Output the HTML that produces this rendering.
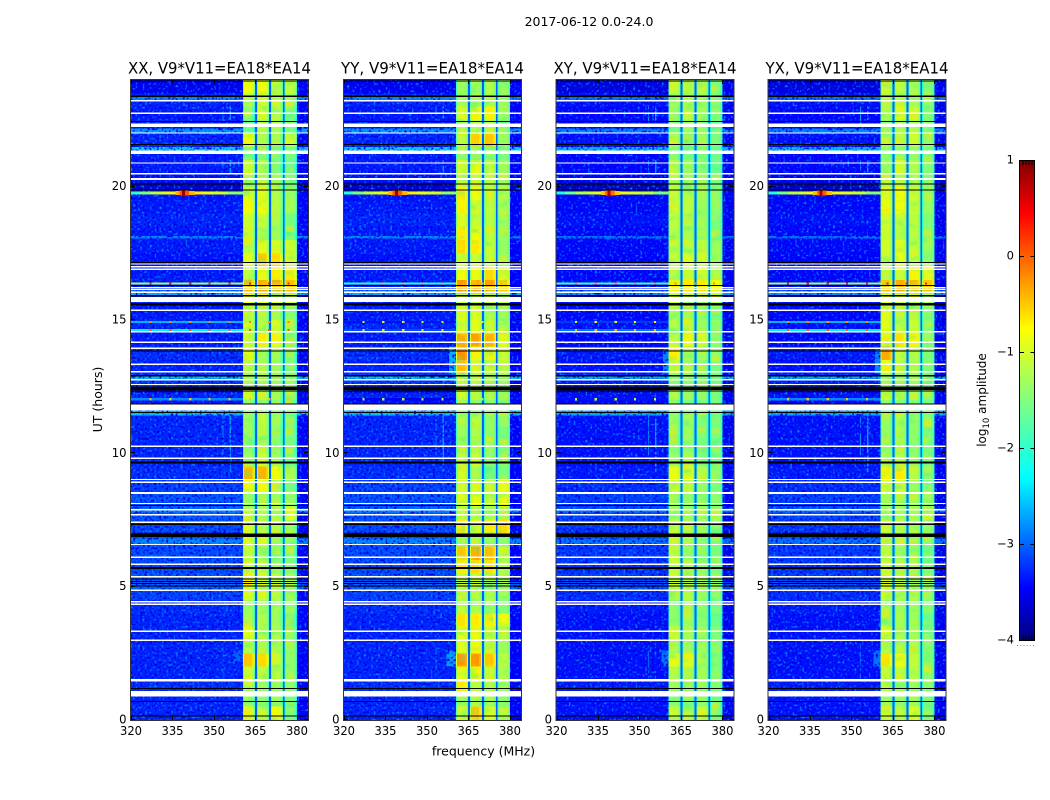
<!DOCTYPE html>
<html lang="en">
<head>
<meta charset="utf-8">
<title>2017-06-12 dynamic spectra</title>
<style>
html,body{margin:0;padding:0;background:#fff;width:1050px;height:800px;overflow:hidden}
svg{display:block}
text{font-family:"DejaVu Sans","Liberation Sans",sans-serif;fill:#000}
</style>
</head>
<body>
<svg id="fig" xmlns="http://www.w3.org/2000/svg" width="1050" height="800" viewBox="0 0 1050 800">
<defs>
<linearGradient id="jetGrad" x1="0" y1="1" x2="0" y2="0">
<stop offset="0" stop-color="#00007f"/><stop offset=".11" stop-color="#0000ff"/><stop offset=".34" stop-color="#00ffff"/><stop offset=".5" stop-color="#7fff7f"/><stop offset=".65" stop-color="#ffff00"/><stop offset=".89" stop-color="#ff0000"/><stop offset="1" stop-color="#7f0000"/>
</linearGradient>
<filter id="speckLight" x="0" y="0" width="100%" height="100%" color-interpolation-filters="sRGB">
<feTurbulence type="fractalNoise" baseFrequency="0.42" numOctaves="1" seed="4"/>
<feColorMatrix type="matrix" values="0 0 0 0 0  0 0 0 0 .5  0 0 0 0 1  5 0 0 0 -2.7"/>
</filter>
<filter id="speckDark" x="0" y="0" width="100%" height="100%" color-interpolation-filters="sRGB">
<feTurbulence type="fractalNoise" baseFrequency="0.42" numOctaves="1" seed="11"/>
<feColorMatrix type="matrix" values="0 0 0 0 0  0 0 0 0 0  0 0 0 0 .9  5 0 0 0 -2.55"/>
</filter>
<filter id="mottleGreen" x="0" y="0" width="100%" height="100%" color-interpolation-filters="sRGB">
<feTurbulence type="fractalNoise" baseFrequency="0.05 0.11" numOctaves="2" seed="7"/>
<feColorMatrix type="matrix" values="0 0 0 0 .3  0 0 0 0 .95  0 0 0 0 .55  2 0 0 0 -1.05"/>
</filter>
<filter id="mottleYellow" x="0" y="0" width="100%" height="100%" color-interpolation-filters="sRGB">
<feTurbulence type="fractalNoise" baseFrequency="0.05 0.11" numOctaves="2" seed="23"/>
<feColorMatrix type="matrix" values="0 0 0 0 1  0 0 0 0 .9  0 0 0 0 0  2 0 0 0 -1.05"/>
</filter>
</defs>
<text x="589" y="26" font-size="12.5" text-anchor="middle">2017-06-12 0.0-24.0</text>
<text x="483.5" y="755.5" font-size="12.5" text-anchor="middle">frequency (MHz)</text>
<text x="0" y="0" font-size="12.5" text-anchor="middle" transform="translate(102 399.5) rotate(-90)">UT (hours)</text>
<g id="panels"></g>
<g>
<rect x="1019.5" y="160.5" width="15" height="480" fill="url(#jetGrad)" stroke="#000" stroke-width="1"/>
<g id="cbTicks"></g>
<line x1="1017" x2="1036" y1="645.5" y2="645.5" stroke="#888" stroke-width="1" stroke-dasharray="1 2.2"/>
<text x="0" y="0" font-size="12" text-anchor="middle" transform="translate(986 400) rotate(-90)">log<tspan font-size="8.5" dy="3">10</tspan><tspan dy="-3"> amplitude</tspan></text>
</g>
</svg>
<script>
// Panels
var panelTitles = ["XX, V9*V11=EA18*EA14", "YY, V9*V11=EA18*EA14", "XY, V9*V11=EA18*EA14", "YX, V9*V11=EA18*EA14"];
// Axis ticks
var freqTicks = [320, 335, 350, 365, 380];
var hourTicks = [0, 5, 10, 15, 20];
var colorTicks = [1, 0, -1, -2, -3, -4];
// Time rows: half-hour steps, listed from 24 h down to 0 h
var rowStepHours = 0.5;
// Spectral windows in MHz
var bandStarts = [360.5, 365.5, 370.55, 375.5];
var bandEnds = [364.9, 369.95, 374.9, 380.0];
// log10 amplitude of the quiet band below 360 MHz, per time row
var quietLevel = [-3.5,-3.2,-3.25,-3.25,-3.2,-3.25,-3.25,-3.3,-3.3,-3.25,-3.2,-3.25,-3.25,-3.3,-3.25,-3.2,-3.2,-3.25,-3.2,-3.25,-3.15,-3.2,-3.1,-3.2,-3.3,-3.2,-3.2,-3.2,-3.2,-3.15,-3.05,-2.95,-2.95,-3.0,-2.95,-3.0,-3.0,-2.95,-3.05,-3.15,-3.2,-3.2,-3.2,-3.2,-3.2,-3.15,-3.2,-3.2];
var quietOffset = [0, 0, -0.1, -0.1];
var upperBandLevel = -3.4;
var gapLevel = -2.9;
var edgeDrop = 0.6;
var shoulderDrop = 0.15;
// log10 amplitude per time row, per spectral window
var xxBand1 = [-0.8,-1.2,-1.5,-1.6,-0.8,-1.5,-1.05,-1.2,-0.9,-0.8,-1.0,-1.05,-1.1,-0.9,-1.1,-0.45,-0.8,-1.0,-0.95,-1.05,-0.85,-1.1,-1.2,-1.0,-1.4,-1.3,-1.3,-1.4,-1.25,-0.4,-0.8,-1.3,-1.1,-0.95,-0.95,-1.05,-1.0,-0.7,-0.95,-1.3,-1.25,-0.9,-1.2,-0.5,-1.05,-1.1,-1.3,-0.95];
var xxBand2 = [-0.8,-1.0,-1.0,-1.15,-1.2,-1.5,-1.2,-1.1,-0.9,-0.8,-1.05,-1.2,-0.9,-0.5,-0.85,-0.35,-0.8,-1.2,-1.15,-0.7,-1.25,-1.25,-1.2,-1.15,-1.4,-1.1,-1.2,-1.2,-1.0,-0.4,-0.8,-1.3,-1.2,-1.15,-0.95,-1.3,-1.1,-1.0,-1.0,-1.25,-1.2,-1.15,-1.2,-0.6,-1.1,-1.3,-1.4,-1.1];
var xxBand3 = [-1.1,-1.1,-1.15,-1.25,-1.25,-1.5,-1.5,-1.3,-1.2,-1.15,-1.25,-1.3,-1.0,-0.6,-0.7,-0.35,-0.9,-1.25,-1.0,-0.8,-1.3,-1.3,-1.3,-1.25,-1.5,-1.3,-1.4,-1.4,-1.3,-0.8,-1.2,-1.3,-1.2,-1.15,-1.3,-1.3,-1.3,-1.1,-1.15,-1.25,-1.3,-1.2,-1.15,-1.05,-1.1,-1.3,-1.3,-0.8];
var xxBand4 = [-1.1,-1.3,-1.5,-1.5,-1.0,-1.5,-1.6,-1.45,-1.3,-1.25,-1.5,-1.5,-1.0,-0.9,-0.7,-0.45,-1.0,-1.4,-1.3,-1.3,-1.5,-1.5,-1.3,-1.3,-1.5,-1.5,-1.5,-1.5,-1.5,-1.2,-1.5,-1.3,-0.9,-1.3,-1.4,-1.5,-1.5,-1.2,-1.35,-1.4,-1.6,-1.4,-1.35,-1.35,-1.35,-1.4,-1.5,-1.5];
var yyBand1 = [-1.3,-1.25,-0.95,-1.2,-1.1,-1.35,-0.95,-1.1,-0.7,-0.75,-0.95,-0.7,-0.6,-0.95,-0.8,-0.25,-1.0,-0.9,-1.0,-0.35,-0.2,-0.45,-1.1,-1.0,-1.4,-1.25,-1.3,-1.25,-1.1,-1.0,-1.0,-0.9,-1.1,-0.7,-1.3,-0.5,-0.7,-1.1,-1.1,-1.1,-0.65,-0.9,-0.9,-0.25,-0.9,-0.7,-1.25,-1.05];
var yyBand2 = [-1.3,-1.2,-0.75,-1.2,-0.55,-1.35,-0.85,-1.1,-0.8,-1.0,-1.05,-0.8,-0.7,-1.05,-0.85,-0.3,-1.0,-0.95,-0.9,-0.3,-0.75,-1.0,-1.1,-1.1,-1.4,-1.1,-1.2,-1.2,-1.05,-1.25,-1.0,-0.85,-1.2,-0.9,-1.3,-0.3,-0.6,-1.05,-1.2,-1.2,-0.7,-0.85,-0.8,-0.25,-0.75,-1.1,-1.25,-0.5];
var yyBand3 = [-1.2,-1.2,-0.75,-1.2,-0.5,-1.35,-1.1,-1.15,-1.1,-1.1,-1.15,-1.1,-1.05,-1.05,-0.6,-0.3,-1.0,-1.2,-1.1,-0.4,-0.75,-1.05,-1.2,-1.2,-1.4,-1.35,-1.35,-1.35,-1.4,-1.5,-1.1,-1.1,-1.1,-0.7,-1.3,-0.45,-0.65,-1.1,-1.2,-1.25,-0.7,-1.05,-1.1,-0.5,-1.1,-1.2,-1.3,-0.9];
var yyBand4 = [-1.35,-1.35,-1.3,-1.4,-1.3,-1.5,-1.35,-1.3,-1.15,-1.2,-1.3,-1.3,-1.35,-1.3,-0.9,-0.55,-1.2,-1.3,-1.2,-0.9,-1.05,-1.1,-1.3,-1.35,-1.5,-1.4,-1.5,-1.45,-1.5,-1.5,-0.85,-0.9,-1.3,-0.6,-1.4,-1.1,-1.15,-1.25,-1.3,-1.45,-0.8,-1.2,-1.3,-1.1,-1.2,-1.3,-1.4,-1.2];
var xyBand1 = [-1.1,-1.2,-1.4,-1.5,-1.2,-1.5,-1.2,-1.2,-1.1,-1.0,-1.1,-1.15,-1.1,-1.05,-1.2,-0.75,-1.0,-1.2,-1.15,-1.1,-0.7,-1.0,-1.4,-1.2,-1.5,-1.4,-1.45,-1.45,-1.3,-0.85,-1.0,-1.35,-1.25,-1.1,-1.1,-1.1,-1.05,-1.0,-1.1,-1.4,-1.35,-1.0,-1.3,-0.85,-1.2,-1.25,-1.4,-1.1];
var xyBand2 = [-1.05,-1.2,-1.1,-1.3,-1.3,-1.5,-1.3,-1.3,-1.15,-1.1,-1.2,-1.2,-1.1,-0.9,-1.05,-0.7,-1.0,-1.3,-1.15,-0.8,-1.2,-1.3,-1.4,-1.3,-1.5,-1.25,-1.3,-1.35,-1.2,-0.85,-1.1,-1.35,-1.35,-1.25,-1.2,-1.35,-1.2,-1.15,-1.2,-1.4,-1.3,-1.25,-1.3,-0.9,-1.2,-1.35,-1.45,-1.2];
var xyBand3 = [-1.2,-1.3,-1.3,-1.35,-1.3,-1.5,-1.4,-1.3,-1.3,-1.3,-1.3,-1.3,-1.15,-1.0,-1.0,-0.7,-1.1,-1.4,-1.3,-0.95,-1.3,-1.4,-1.4,-1.4,-1.5,-1.45,-1.5,-1.5,-1.45,-1.15,-1.35,-1.4,-1.3,-1.3,-1.4,-1.4,-1.35,-1.25,-1.3,-1.4,-1.4,-1.3,-1.3,-1.2,-1.25,-1.35,-1.4,-1.0];
var xyBand4 = [-1.5,-1.5,-1.5,-1.55,-1.5,-1.6,-1.6,-1.5,-1.45,-1.4,-1.5,-1.5,-1.3,-1.3,-1.2,-0.8,-1.2,-1.5,-1.4,-1.4,-1.4,-1.5,-1.5,-1.5,-1.5,-1.5,-1.5,-1.5,-1.5,-1.4,-1.5,-1.4,-1.2,-1.4,-1.5,-1.5,-1.5,-1.4,-1.4,-1.5,-1.6,-1.45,-1.45,-1.45,-1.45,-1.45,-1.55,-1.5];
var yxBand1 = [-1.1,-1.2,-1.2,-1.4,-1.2,-1.4,-1.3,-1.2,-0.95,-0.85,-1.0,-1.05,-1.0,-1.05,-1.15,-0.5,-0.9,-0.9,-0.9,-0.9,-0.35,-0.85,-1.3,-1.05,-1.45,-1.35,-1.35,-1.35,-1.25,-0.75,-0.95,-1.25,-1.2,-1.05,-1.1,-1.1,-1.05,-0.95,-1.0,-1.3,-1.3,-0.95,-1.2,-0.65,-1.1,-1.15,-1.3,-1.0];
var yxBand2 = [-1.1,-1.2,-0.95,-1.2,-1.1,-1.4,-1.0,-1.15,-0.8,-0.8,-1.05,-1.15,-0.95,-0.85,-1.05,-0.35,-0.9,-1.2,-1.1,-0.65,-1.1,-1.15,-1.3,-1.2,-1.45,-1.2,-1.25,-1.25,-1.15,-0.7,-1.0,-1.25,-1.25,-1.2,-1.15,-1.3,-1.2,-1.1,-1.15,-1.3,-1.25,-1.2,-1.25,-0.8,-1.1,-1.3,-1.35,-1.15];
var yxBand3 = [-1.25,-1.25,-1.05,-1.2,-1.0,-1.4,-1.2,-1.2,-1.0,-1.05,-1.15,-1.15,-1.05,-1.05,-0.75,-0.4,-1.0,-1.2,-1.05,-0.75,-1.15,-1.2,-1.3,-1.25,-1.45,-1.35,-1.4,-1.4,-1.4,-1.15,-1.3,-1.3,-1.25,-1.2,-1.35,-1.35,-1.3,-1.2,-1.2,-1.3,-1.3,-1.25,-1.2,-1.1,-1.15,-1.3,-1.3,-0.9];
var yxBand4 = [-1.45,-1.4,-1.45,-1.45,-1.35,-1.5,-1.45,-1.45,-1.35,-1.35,-1.45,-1.45,-1.35,-1.4,-0.9,-0.5,-1.2,-1.4,-1.4,-1.3,-1.45,-1.45,-1.4,-1.4,-1.5,-1.45,-1.5,-1.5,-1.5,-1.4,-1.5,-1.3,-1.0,-1.35,-1.45,-1.5,-1.5,-1.35,-1.35,-1.45,-1.6,-1.45,-1.4,-1.4,-1.4,-1.4,-1.5,-1.5];
var xxBands = [xxBand1, xxBand2, xxBand3, xxBand4];
var yyBands = [yyBand1, yyBand2, yyBand3, yyBand4];
var xyBands = [xyBand1, xyBand2, xyBand3, xyBand4];
var yxBands = [yxBand1, yxBand2, yxBand3, yxBand4];
var panelBands = [xxBands, yyBands, xyBands, yxBands];
// Brighter / darker horizontal strips outside the windows: hour, duration, level
var stripHours = [23.3, 22.1, 21.4, 18.1, 16.0, 12.85, 11.6, 7.85, 6.7, 5.05, 20.0, 12.4, 6.95];
var stripSpans = [0.15, 0.16, 0.18, 0.1, 0.2, 0.15, 0.35, 0.15, 0.2, 0.3, 0.3, 0.22, 0.16];
var stripLevels = [-2.7, -2.6, -2.35, -2.7, -2.5, -2.4, -2.4, -2.7, -2.7, -2.9, -3.7, -3.7, -3.7];
// Broadband interference wedge near 19.76 h
var wedgeHour = 19.76;
var wedgeFreqs = [320, 323, 327, 331, 334, 336, 337.5, 338.5, 339.5, 341, 343, 346, 350, 355, 360.5];
var wedgeLevels = [-2, -1.5, -1.1, -0.9, -0.75, -0.4, 0.1, 0.9, 0.1, -0.4, -0.7, -0.85, -1, -1.4, -1.8];
var wedgeSpans = [0.1, 0.1, 0.11, 0.11, 0.12, 0.14, 0.18, 0.24, 0.18, 0.14, 0.12, 0.11, 0.11, 0.1, 0.1];
var wedgePanelShift = [0, 0, -0.1, -0.05];
// Comb interference rows
var combFreqs = [327, 334.2, 341.4, 348.4, 355.6, 363, 370, 377];
var combHours = [16.37, 14.92, 14.62, 12.03];
var combBase = [-1.25, -2.5, -2.2, -2.7];
var combPeak = [0.4, -0.2, 0.1, -0.5];
var combPanelShift = [0, -0.8, -0.6, 0];
// Narrow vertical interference
var lineFreqs = [353.3, 355.9, 353.3, 355.9, 353.3, 355.9, 353.3];
var lineStarts = [22.4, 22.5, 20.6, 20.5, 9.9, 9.3, 1.5];
var lineEnds = [23.0, 23.0, 21.0, 21.0, 11.5, 11.5, 2.8];
var lineLevels = [-2.6, -2.5, -2.8, -2.6, -2.7, -2.6, -2.9];
// Blooms beside the first window: panel, low freq, high freq, start hour, end hour, level
var bloomPanels = [1, 1, 2, 2, 3, 3, 0];
var bloomLow = [358, 357, 358.5, 358, 358.5, 358, 357];
var bloomHigh = [360.5, 360.5, 360.5, 360.5, 360.5, 360.5, 360.5];
var bloomStart = [13.0, 2.0, 13.0, 2.0, 13.0, 2.0, 2.2];
var bloomEnd = [14.0, 2.6, 13.9, 2.6, 13.9, 2.6, 2.6];
var bloomLevels = [-2.5, -2.6, -2.7, -2.8, -2.7, -2.8, -2.9];
// Flagged (blank) and zero-amplitude integrations: hour, duration
var blankHours = [23.22,22.75,22.30,22.01,21.29,20.89,20.49,20.29,17.10,17.00,16.90,16.22,16.15,16.04,15.77,15.37,14.56,14.16,13.94,13.34,13.06,12.76,12.58,11.73,10.26,9.81,9.02,8.92,8.51,8.12,7.89,7.69,7.41,6.58,6.10,5.84,5.37,4.86,4.43,4.34,3.33,2.99,1.49,0.99];
var blankSpans = [.05,.05,.14,.05,.14,.05,.05,.07,.05,.05,.05,.05,.05,.05,.2,.05,.05,.05,.05,.05,.05,.05,.05,.24,.05,.05,.05,.05,.07,.05,.05,.06,.05,.05,.05,.05,.05,.05,.05,.05,.07,.05,.09,.2];
var zeroHours = [23.97,23.39,22.44,21.58,20.10,19.88,17.16,16.29,15.91,15.59,13.83,12.91,12.44,12.33,11.85,11.53,9.66,8.05,7.34,6.93,5.70,5.29,5.20,5.12,5.03,1.18,0.69,0.15];
var zeroSpans = [.04,.04,.04,.04,.04,.04,.04,.04,.04,.09,.04,.04,.12,.04,.04,.04,.07,.04,.04,.13,.07,.04,.04,.04,.04,.04,.04,.04];

var SVGNS = "http://www.w3.org/2000/svg";
var panelLefts = [131, 344, 556.5, 768.5];
var plotWidth = 177, plotTop = 80, plotBottom = 720;
function fx(left, f){ return left + (f - 320) * plotWidth / 64; }
function hy(h){ return plotBottom - h * (plotBottom - plotTop) / 24; }
function jet(level){
  var v = Math.max(0, Math.min(1, (level + 4) / 5));
  function piece(xs, ys){
    for (var i = 1; i < xs.length; i++) if (v <= xs[i]) return ys[i-1] + (ys[i]-ys[i-1]) * (v-xs[i-1]) / (xs[i]-xs[i-1]);
    return ys[ys.length-1];
  }
  var r = piece([0,.35,.66,.89,1],[0,0,1,1,.5]);
  var g = piece([0,.125,.375,.64,.91,1],[0,0,1,1,0,0]);
  var b = piece([0,.11,.34,.65,1],[.5,1,1,0,0]);
  return "rgb(" + Math.round(r*255) + "," + Math.round(g*255) + "," + Math.round(b*255) + ")";
}
function cell(parent, x0, x1, y0, y1, level){
  var r = document.createElementNS(SVGNS, "rect");
  r.setAttribute("x", x0.toFixed(2));
  r.setAttribute("y", y0.toFixed(2));
  r.setAttribute("width", Math.max(0.1, x1 - x0).toFixed(2));
  r.setAttribute("height", Math.max(0.1, y1 - y0).toFixed(2));
  r.setAttribute("fill", jet(level));
  r.setAttribute("shape-rendering", "crispEdges");
  
  
  parent.appendChild(r);
  return r;
}
function flagRow(parent, left, h, span, color, name){
  var r = document.createElementNS(SVGNS, "rect");
  var t = hy(h + span / 2);
  r.setAttribute("x", left);
  r.setAttribute("y", t.toFixed(2));
  r.setAttribute("width", plotWidth);
  r.setAttribute("height", (span * 26.67).toFixed(2));
  r.setAttribute("fill", color);
  r.setAttribute("shape-rendering", "crispEdges");
  
  
  parent.appendChild(r);
}
function tickLine(parent, x1, y1, x2, y2, name){
  var l = document.createElementNS(SVGNS, "line");
  l.setAttribute("x1", x1); l.setAttribute("y1", y1);
  l.setAttribute("x2", x2); l.setAttribute("y2", y2);
  l.setAttribute("stroke", "#000");
  l.setAttribute("stroke-width", "1");
  
  
  parent.appendChild(l);
}
function label(parent, x, y, str, anchor, size, name, fitWidth){
  var t = document.createElementNS(SVGNS, "text");
  t.setAttribute("x", x); t.setAttribute("y", y);
  t.setAttribute("text-anchor", anchor);
  t.setAttribute("font-size", size);
  if (fitWidth){
    t.setAttribute("textLength", fitWidth);
    t.setAttribute("lengthAdjust", "spacingAndGlyphs");
  }
  t.textContent = str;
  
  
  parent.appendChild(t);
}
function texture(parent, x, y, w, h, filterId){
  var ov = document.createElementNS(SVGNS, "rect");
  ov.setAttribute("x", x); ov.setAttribute("y", y);
  ov.setAttribute("width", w); ov.setAttribute("height", h);
  ov.setAttribute("filter", "url(#" + filterId + ")");
  
  
  parent.appendChild(ov);
}
function drawPanel(p){
  var root = document.getElementById("panels");
  var left = panelLefts[p];
  var g = document.createElementNS(SVGNS, "g");
  
  
  root.appendChild(g);
  var clip = document.createElementNS(SVGNS, "clipPath");
  clip.setAttribute("id", "clip" + p);
  var cr = document.createElementNS(SVGNS, "rect");
  cr.setAttribute("x", left); cr.setAttribute("y", plotTop);
  cr.setAttribute("width", plotWidth); cr.setAttribute("height", plotBottom - plotTop);
  clip.appendChild(cr);
  g.appendChild(clip);
  var cells = document.createElementNS(SVGNS, "g");
  cells.setAttribute("clip-path", "url(#clip" + p + ")");
  
  
  g.appendChild(cells);
  var bands = panelBands[p];
  var quietEnd = fx(left, bandStarts[0]);
  var upperStart = fx(left, bandEnds[3]);
  var i, b, k;
  for (i = 0; i < quietLevel.length; i++){
    var y0 = plotTop + i * rowStepHours * 26.667, y1 = y0 + rowStepHours * 26.667;
    cell(cells, left, quietEnd, y0, y1, quietLevel[i] + quietOffset[p]);
    cell(cells, upperStart, left + plotWidth, y0, y1, upperBandLevel + quietOffset[p]);
  }
  for (k = 0; k < stripHours.length; k++){
    var st = hy(stripHours[k] + stripSpans[k]/2), sb = hy(stripHours[k] - stripSpans[k]/2);
    cell(cells, left, quietEnd, st, sb, stripLevels[k] + quietOffset[p]);
    cell(cells, upperStart, left + plotWidth, st, sb, stripLevels[k] + quietOffset[p]);
  }
  for (k = 0; k < lineFreqs.length; k++){
    cell(cells, fx(left, lineFreqs[k] - 0.2), fx(left, lineFreqs[k] + 0.2), hy(lineEnds[k]), hy(lineStarts[k]), lineLevels[k]);
  }
  for (k = 0; k < bloomPanels.length; k++){
    if (bloomPanels[k] === p) cell(cells, fx(left, bloomLow[k]), fx(left, bloomHigh[k]), hy(bloomEnd[k]), hy(bloomStart[k]), bloomLevels[k]);
  }
  texture(cells, left, plotTop, quietEnd - left, plotBottom - plotTop, "speckLight");
  texture(cells, left, plotTop, quietEnd - left, plotBottom - plotTop, "speckDark");
  texture(cells, upperStart, plotTop, left + plotWidth - upperStart, plotBottom - plotTop, "speckLight");
  texture(cells, upperStart, plotTop, left + plotWidth - upperStart, plotBottom - plotTop, "speckDark");
  // spectral windows
  for (i = 0; i < quietLevel.length; i++){
    var top = plotTop + i * rowStepHours * 26.667, bot = top + rowStepHours * 26.667;
    for (b = 0; b < 4; b++){
      var v = bands[b][i];
      var a0 = fx(left, bandStarts[b]), a1 = fx(left, bandEnds[b]);
      cell(cells, a0, a1, top, bot, v);
      if (b < 3){
        var g1 = fx(left, bandStarts[b + 1]);
        cell(cells, a1, g1, top, bot, gapLevel);
      }
    }
  }
  // slow mottling inside the windows
  var bandX0 = fx(left, bandStarts[0]), bandX1 = fx(left, bandEnds[3]);
  texture(cells, bandX0, plotTop, bandX1 - bandX0, plotBottom - plotTop, "mottleGreen");
  texture(cells, bandX0, plotTop, bandX1 - bandX0, plotBottom - plotTop, "mottleYellow");
  // roll-off at the window edges and blue separators on top of mottling
  for (i = 0; i < quietLevel.length; i++){
    var t2 = plotTop + i * rowStepHours * 26.667, b2 = t2 + rowStepHours * 26.667;
    for (b = 0; b < 4; b++){
      var w = bands[b][i];
      var e0 = fx(left, bandStarts[b]), e1 = fx(left, bandEnds[b]);
      cell(cells, e0, e0 + 1, t2, b2, w - edgeDrop);
      cell(cells, e1 - 1, e1, t2, b2, w - edgeDrop);
      cell(cells, e1 - 3, e1 - 1, t2, b2, w - shoulderDrop);
      if (b < 3) cell(cells, e1, fx(left, bandStarts[b + 1]), t2, b2, gapLevel);
    }
  }
  // wedge
  for (k = 0; k + 1 < wedgeFreqs.length; k++){
    var sp = wedgeSpans[k];
    cell(cells, fx(left, wedgeFreqs[k]), fx(left, wedgeFreqs[k+1]), hy(wedgeHour + sp/2), hy(wedgeHour - sp/2), wedgeLevels[k] + wedgePanelShift[p]);
  }
  // combs
  for (k = 0; k < combHours.length; k++){
    var ct = hy(combHours[k] + 0.04), cb = hy(combHours[k] - 0.04);
    var sh = combPanelShift[p];
    cell(cells, left, quietEnd, ct, cb, combBase[k] + sh);
    for (i = 0; i < combFreqs.length; i++){
      var cf = combFreqs[i];
      if (cf > 360 && p >= 2 && k > 0) continue;
      cell(cells, fx(left, cf - 0.4), fx(left, cf + 0.4), ct, cb, combPeak[k] + sh);
    }
  }
  // flagged rows
  for (k = 0; k < blankHours.length; k++) flagRow(cells, left, blankHours[k], blankSpans[k], "#fff", "flagged-row");
  for (k = 0; k < zeroHours.length; k++) flagRow(cells, left, zeroHours[k], zeroSpans[k], "#000", "zero-row");
  // frame and ticks
  var frame = document.createElementNS(SVGNS, "rect");
  frame.setAttribute("x", left - 0.5); frame.setAttribute("y", plotTop - 0.5);
  frame.setAttribute("width", plotWidth + 1); frame.setAttribute("height", plotBottom - plotTop + 1);
  frame.setAttribute("fill", "none");
  frame.setAttribute("stroke", "#333");
  frame.setAttribute("stroke-width", "1");
  
  
  g.appendChild(frame);
  for (k = 0; k < freqTicks.length; k++){
    var tx = Math.round(fx(left, freqTicks[k])) + 0.5;
    tickLine(g, tx, plotBottom, tx, plotBottom - 4, "x-tick");
    tickLine(g, tx, plotTop, tx, plotTop + 4, "x-tick");
    label(g, fx(left, freqTicks[k]), 735, String(freqTicks[k]), "middle", 12.5, "x-tick-label", 22);
  }
  for (k = 0; k < hourTicks.length; k++){
    var ty = Math.round(hy(hourTicks[k])) - 0.5;
    tickLine(g, left, ty, left + 4, ty, "y-tick");
    tickLine(g, left + plotWidth, ty, left + plotWidth - 4, ty, "y-tick");
    label(g, left - 4.5, hy(hourTicks[k]) + 3.5, String(hourTicks[k]), "end", 12.5, "y-tick-label", String(hourTicks[k]).length * 7.4);
  }
  label(g, left + plotWidth / 2, 73.5, panelTitles[p], "middle", 16, "panel-title", 183);
}
for (var pi = 0; pi < panelTitles.length; pi++) drawPanel(pi);
(function(){
  var g = document.getElementById("cbTicks");
  for (var k = 0; k < colorTicks.length; k++){
    var y = 640.5 - (colorTicks[k] + 4) * 96;
    var txt = colorTicks[k] < 0 ? "\u2212" + Math.abs(colorTicks[k]) : String(colorTicks[k]);
    label(g, 1014, y + 3, txt, "end", 11.5, "colorbar-tick-label");
    tickLine(g, 1019.5, y, 1024, y, "colorbar-tick");
    tickLine(g, 1035, y, 1030.5, y, "colorbar-tick");
  }
  var minorX = [1023, 1026, 1029, 1032];
  for (var m = 0; m < minorX.length; m++){
    tickLine(g, minorX[m], 160.5, minorX[m], 165, "colorbar-minor-tick");
    tickLine(g, minorX[m], 640.5, minorX[m], 636, "colorbar-minor-tick");
  }
})();
</script>
</body>
</html>
